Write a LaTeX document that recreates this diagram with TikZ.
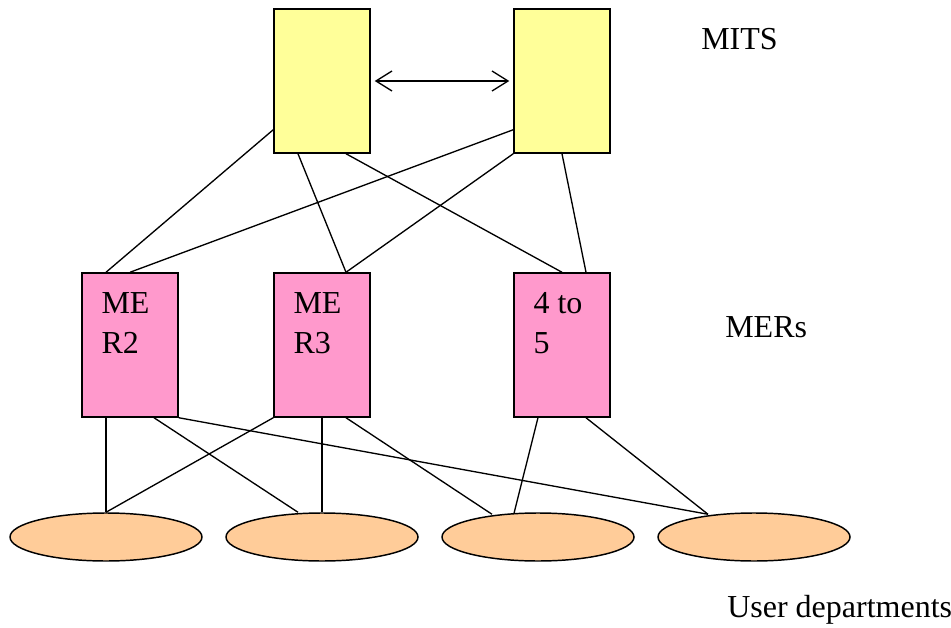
\documentclass[tikz,border=0pt]{standalone}
\usepackage{fontspec}
\setmainfont{Liberation Serif}
\usetikzlibrary{shapes.geometric,calc,arrows.meta}

\definecolor{mitsyellow}{HTML}{FFFF99}
\definecolor{merpink}{HTML}{FF99CC}
\definecolor{userpeach}{HTML}{FFCC99}

\tikzset{
  mitsbox/.style={draw,line width=1.1pt,fill=mitsyellow,minimum width=72pt,minimum height=108pt,inner sep=0pt},
  merbox/.style={draw,line width=1.1pt,fill=merpink,minimum width=72pt,minimum height=108pt,inner sep=0pt},
  userdept/.style={draw,line width=1.1pt,fill=userpeach,ellipse,minimum width=144pt,minimum height=36pt,inner sep=0pt},
  lbl/.style={inner sep=0pt,font=\rmfamily\fontsize{24}{30}\selectfont,align=left},
  link/.style={line width=1pt}
}

\begin{document}
\begin{tikzpicture}[x=0.75pt,y=-0.75pt]
   \useasboundingbox (0,0) rectangle (951,628);
   % MITS
   \node[mitsbox] (y1) at (322,81) {};
   \node[mitsbox] (y2) at (562,81) {};
   \draw[link,{Straight Barb[length=12pt,width=15pt]}-{Straight Barb[length=12pt,width=15pt]},shorten <=3pt,shorten >=3pt] (y1.east) -- (y2.west);
   % MERs
   \node[merbox] (m2) at (130,345) {};
   \node[merbox] (m3) at (322,345) {};
   \node[merbox] (m45) at (562,345) {};
   \node[lbl,anchor=north west] (t2) at ($(m2.north west)+(20,20)$) {ME\\R2};
   \node[lbl,anchor=north west] (t3) at ($(m3.north west)+(20,20)$) {ME\\R3};
   \node[lbl,anchor=north west] (t45) at ($(m45.north west)+(20,20)$) {4 to\\5};
   % user departments
   \foreach \i/\x in {1/106,2/322,3/538,4/754}
     \node[userdept] (u\i) at (\x,537) {};
   \coordinate (u3a) at ($(u3.north)+(-46,2)$);
   \coordinate (u4a) at ($(u4.north)+(-46,2)$);
   % MITS to MERs
   \draw[link] ($(y1.south west)+(0,-24)$) -- ($(m2.north)+(-24,0)$);
   \draw[link] ($(y2.south west)+(0,-24)$) -- (m2.north);
   \draw[link] ($(y1.south)+(-24,0)$) -- ($(m3.north)+(24,0)$);
   \draw[link] (y2.south west) -- ($(m3.north)+(24,0)$);
   \draw[link] ($(y1.south)+(24,0)$) -- (m45.north);
   \draw[link] (y2.south) -- ($(m45.north)+(24,0)$);
   % MERs to user departments
   \draw[link] ($(m2.south)+(-24,0)$) -- (u1.north);
   \draw[link] ($(m2.south)+(24,0)$) -- ($(u2.north)+(-24,0)$);
   \draw[link] (m2.south east) -- (u4a);
   \draw[link] (m3.south west) -- (u1.north);
   \draw[link] (m3.south) -- (u2.north);
   \draw[link] ($(m3.south)+(24,0)$) -- (u3a);
   \draw[link] ($(m45.south)+(-24,0)$) -- ($(u3.north)+(-24,1)$);
   \draw[link] ($(m45.south)+(24,0)$) -- (u4a);
   % side labels
   \node[lbl,anchor=base west] (mits) at (701,49) {MITS};
   \node[lbl,anchor=base west] (mers) at (725,337) {MERs};
   \node[lbl,anchor=base west] (users) at (727,617) {User departments};
\end{tikzpicture}
\end{document}
